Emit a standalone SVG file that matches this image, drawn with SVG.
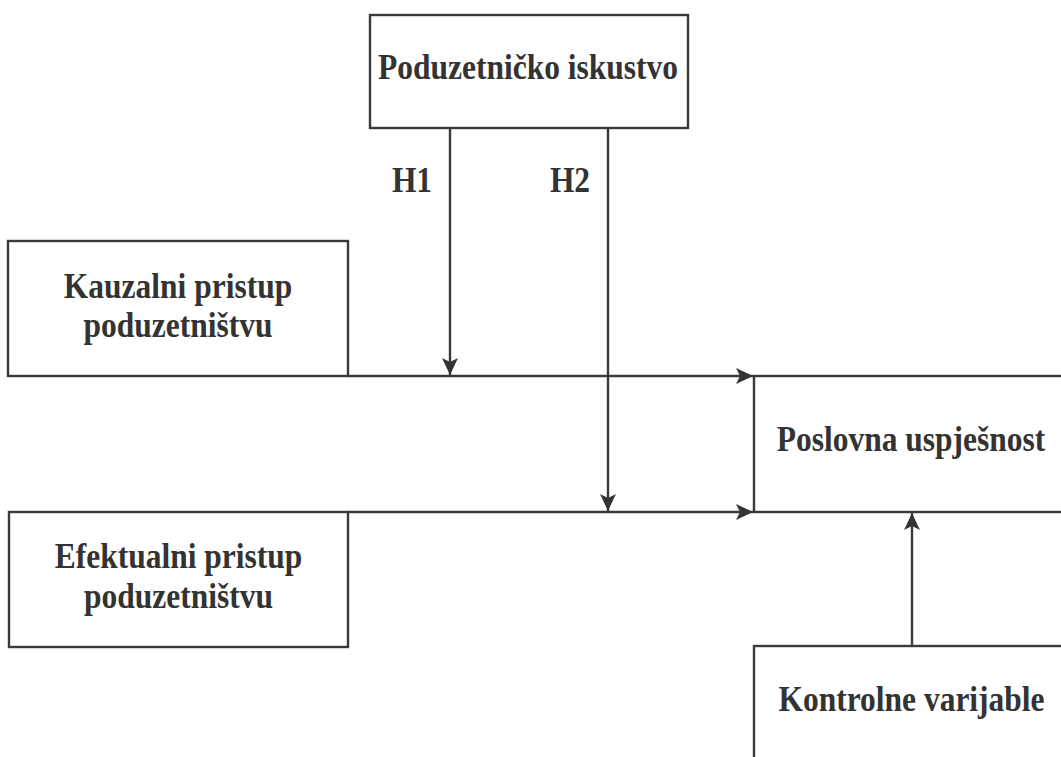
<svg xmlns="http://www.w3.org/2000/svg" width="1061" height="757" viewBox="0 0 1061 757">
<style>
.box{fill:#ffffff;stroke:#3a3a3a;stroke-width:2.4}
.lbl{font-family:"Liberation Serif","Times New Roman",serif;font-weight:bold;font-size:35px;fill:#333333;text-anchor:middle}
.con{fill:none;stroke:#3a3a3a;stroke-width:2.4}
</style>
<defs>
<marker id="arr" markerUnits="userSpaceOnUse" markerWidth="20" markerHeight="18" viewBox="0 0 20 18" refX="18" refY="9" orient="auto">
<path d="M1,1 L18,9 L1,17 L5,9 Z" fill="#333333"/>
</marker>
</defs>
<rect width="1061" height="757" fill="#ffffff"/>
<g id="node-iskustvo">
<rect class="box" x="370" y="15" width="318" height="113"/>
<text class="lbl" transform="translate(528,79) scale(0.9,1)">Poduzetničko iskustvo</text>
</g>
<g id="node-kauzalni">
<rect class="box" x="8" y="241" width="340" height="135"/>
<text class="lbl" transform="translate(178,298) scale(0.9,1)">Kauzalni pristup</text>
<text class="lbl" transform="translate(178,337) scale(0.9,1)">poduzetništvu</text>
</g>
<g id="node-efektualni">
<rect class="box" x="9" y="512" width="339" height="135"/>
<text class="lbl" transform="translate(178.5,568) scale(0.9,1)">Efektualni pristup</text>
<text class="lbl" transform="translate(178.5,608) scale(0.9,1)">poduzetništvu</text>
</g>
<g id="node-uspjesnost">
<rect class="box" x="754" y="376" width="320" height="136"/>
<text class="lbl" transform="translate(911,451) scale(0.9,1)">Poslovna uspješnost</text>
</g>
<g id="node-kontrolne">
<rect class="box" x="754" y="646" width="320" height="140"/>
<text class="lbl" transform="translate(911.5,711) scale(0.9,1)">Kontrolne varijable</text>
</g>
<g id="connectors">
<line class="con" x1="450" y1="128" x2="450" y2="375" marker-end="url(#arr)"/>
<line class="con" x1="608" y1="128" x2="608" y2="511" marker-end="url(#arr)"/>
<line class="con" x1="348" y1="376" x2="753" y2="376" marker-end="url(#arr)"/>
<line class="con" x1="348" y1="512" x2="753" y2="512" marker-end="url(#arr)"/>
<line class="con" x1="912" y1="646" x2="912" y2="513" marker-end="url(#arr)"/>
<text class="lbl" transform="translate(412,192) scale(0.9,1)">H1</text>
<text class="lbl" transform="translate(570,192) scale(0.9,1)">H2</text>
</g>
</svg>
